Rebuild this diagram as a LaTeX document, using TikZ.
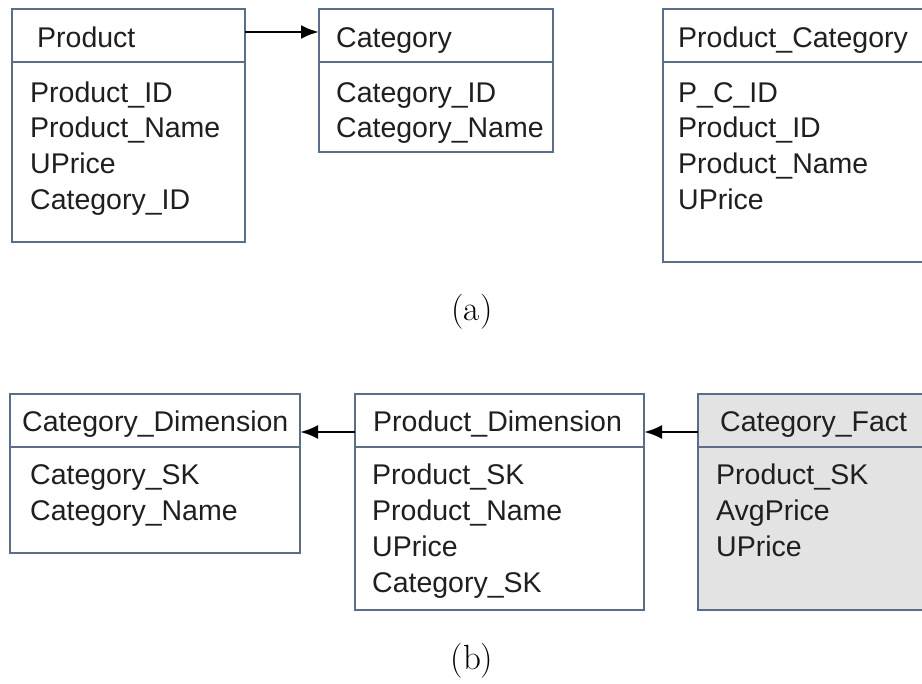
\documentclass[tikz,border=0pt]{standalone}
\usepackage{fontspec}
\newfontfamily\tablefont{Liberation Sans}
\usetikzlibrary{arrows.meta}
\definecolor{edge}{HTML}{5B6E88}
\definecolor{factfill}{HTML}{E3E3E3}
\begin{document}
\begin{tikzpicture}[x=1pt,y=-1pt,
  tablebox/.style={draw=edge,line width=1.4pt,inner sep=0pt,outer sep=0pt,
                   anchor=north west,rectangle},
  headbox/.style={tablebox,fill=none},
  field/.style={anchor=base west,inner sep=0pt,
                font=\tablefont\fontsize{28.5}{34}\selectfont,text=black!88},
  rel/.style={-{Latex[length=18pt,width=14pt]},line width=2.8pt,black},
  caption/.style={anchor=base,inner sep=0pt,font=\fontsize{35}{40}\selectfont}]
\useasboundingbox (0,0) rectangle (922,684);
\clip (0,0) rectangle (922,684);

% ---------- (a) source tables ----------
\node[tablebox,minimum width=233pt,minimum height=233pt] (product) at (12,9) {};
\node[headbox,minimum width=233pt,minimum height=53pt] (productH) at (12,9) {};
\node[field] (productT) at (37,48) {Product};
\node[field] (productF1) at (30,103) {Product\_ID};
\node[field] (productF2) at (30,138) {Product\_Name};
\node[field] (productF3) at (30,174) {UPrice};
\node[field] (productF4) at (30,210) {Category\_ID};

\node[tablebox,minimum width=234pt,minimum height=143pt] (category) at (319,9) {};
\node[headbox,minimum width=234pt,minimum height=53pt] (categoryH) at (319,9) {};
\node[field] (categoryT) at (336,48) {Category};
\node[field] (categoryF1) at (336,103) {Category\_ID};
\node[field] (categoryF2) at (336,138) {Category\_Name};

\node[tablebox,minimum width=280pt,minimum height=253pt] (prodcat) at (663,9) {};
\node[headbox,minimum width=280pt,minimum height=53pt] (prodcatH) at (663,9) {};
\node[field] (prodcatT) at (678,48) {Product\_Category};
\node[field] (prodcatF1) at (678,103) {P\_C\_ID};
\node[field] (prodcatF2) at (678,138) {Product\_ID};
\node[field] (prodcatF3) at (678,174) {Product\_Name};
\node[field] (prodcatF4) at (678,210) {UPrice};

\draw[rel] ([yshift=3.5pt]productH.east) -- ([yshift=3.5pt]categoryH.west);

\node[caption] (capA) at (472,321) {(a)};

% ---------- (b) warehouse tables ----------
\node[tablebox,minimum width=290pt,minimum height=159pt] (catdim) at (10,394) {};
\node[headbox,minimum width=290pt,minimum height=53pt] (catdimH) at (10,394) {};
\node[field] (catdimT) at (22,432) {Category\_Dimension};
\node[field] (catdimF1) at (30,485) {Category\_SK};
\node[field] (catdimF2) at (30,521) {Category\_Name};

\node[tablebox,minimum width=289pt,minimum height=216pt] (proddim) at (355,394) {};
\node[headbox,minimum width=289pt,minimum height=53pt] (proddimH) at (355,394) {};
\node[field] (proddimT) at (373,432) {Product\_Dimension};
\node[field] (proddimF1) at (372,485) {Product\_SK};
\node[field] (proddimF2) at (372,521) {Product\_Name};
\node[field] (proddimF3) at (372,557) {UPrice};
\node[field] (proddimF4) at (372,593) {Category\_SK};

\node[tablebox,fill=factfill,minimum width=250pt,minimum height=216pt] (fact) at (698,394) {};
\node[headbox,minimum width=250pt,minimum height=53pt] (factH) at (698,394) {};
\node[field] (factT) at (720,432) {Category\_Fact};
\node[field] (factF1) at (716,485) {Product\_SK};
\node[field] (factF2) at (716,521) {AvgPrice};
\node[field] (factF3) at (716,557) {UPrice};

\draw[rel] ([yshift=-11.5pt]proddimH.west) -- ([yshift=-11.5pt]catdimH.east);
\draw[rel] ([yshift=-11.5pt]factH.west) -- ([yshift=-11.5pt]proddimH.east);

\node[caption] (capB) at (472,670) {(b)};
\end{tikzpicture}
\end{document}
